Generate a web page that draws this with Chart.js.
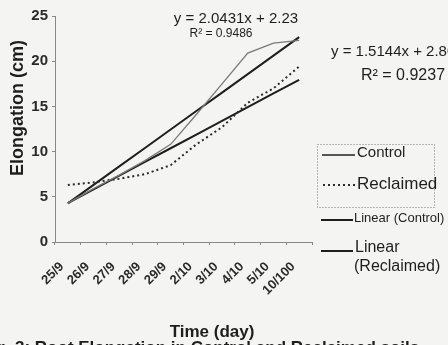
<!DOCTYPE html>
<html>
<head>
<meta charset="utf-8">
<script src="https://cdn.jsdelivr.net/npm/chart.js@4.4.0/dist/chart.umd.min.js"></script>
<style>
  body { margin: 0; background: #f4f4f3; }
  #chartBox { width: 448px; height: 345px; }
</style>
</head>
<body>
<div id="chartBox"><canvas id="myChart" width="448" height="345"></canvas></div>
<script>
'use strict'

// data
const categories = ['25/9', '26/9', '27/9', '28/9', '29/9', '2/10', '3/10', '4/10', '5/10', '10/100'];
const controlValues = [4.3, 5.9, 7.4, 9.0, 10.8, 14.1, 17.5, 20.9, 22.0, 22.3];
const reclaimedValues = [6.3, 6.6, 7.0, 7.5, 8.5, 10.8, 12.7, 15.4, 17.0, 19.4];
// trend lines, values of the printed equations at x = 1..10
const controlTrend = [4.27, 6.32, 8.36, 10.40, 12.45, 14.49, 16.53, 18.57, 20.62, 22.66];
const reclaimedTrend = [4.31, 5.83, 7.34, 8.86, 10.37, 11.89, 13.40, 14.92, 16.43, 17.94];
const yTicks = [0, 5, 10, 15, 20, 25];

const controlEq = ['y = 2.0431x + 2.23', 'R² = 0.9486'];
const reclaimedEq = ['y = 1.5144x + 2.800', 'R² = 0.9237'];

const inkColor = '#1e1e1e';
const fontName = 'Arial, "Liberation Sans", sans-serif';

function font(size, bold) {
  return (bold ? 'bold ' : '') + size + 'px ' + fontName;
}

let textPlugin = {
  id: 'textPlugin',
  afterDraw(chart) {
    const ctx = chart.ctx;
    const sets = chart.data.datasets;
    ctx.save();
    ctx.fillStyle = inkColor;
    ctx.textBaseline = 'middle';

    // y axis title
    ctx.save();
    ctx.translate(18, 108);
    ctx.rotate(-Math.PI / 2);
    ctx.textAlign = 'center';
    ctx.font = font(18, true);
    ctx.fillText('Elongation (cm)', 0, 0);
    ctx.restore();

    // x axis title
    ctx.textAlign = 'center';
    ctx.font = font(17, true);
    ctx.fillText('Time (day)', 212, 332);

    // caption, cut by the bottom edge
    ctx.textAlign = 'left';
    ctx.textBaseline = 'alphabetic';
    ctx.font = font(17, true);
    let lead = ctx.measureText('Fig. ').width;
    ctx.fillText('Fig. 3: Root Elongation in Control and Reclaimed soils', 15 - lead, 353);
    ctx.textBaseline = 'middle';

    // equations
    ctx.textAlign = 'center';
    ctx.font = font(15, false);
    ctx.fillText(controlEq[0], 236, 19);
    ctx.font = font(12, false);
    ctx.fillText(controlEq[1], 221, 34);
    ctx.textAlign = 'left';
    ctx.font = font(15, false);
    ctx.fillText(reclaimedEq[0], 331, 52);
    ctx.font = font(16, false);
    ctx.fillText(reclaimedEq[1], 361, 76);

    // legend box
    ctx.strokeStyle = '#777';
    ctx.lineWidth = 1;
    ctx.setLineDash([1, 2]);
    ctx.strokeRect(317.5, 144.5, 117, 63);

    function symbol(ds, x1, x2, y) {
      ctx.save();
      ctx.strokeStyle = ds.legendColor || ds.borderColor;
      ctx.lineWidth = ds.borderWidth;
      ctx.setLineDash(ds.borderDash || []);
      ctx.beginPath();
      ctx.moveTo(x1, y);
      ctx.lineTo(x2, y);
      ctx.stroke();
      ctx.restore();
    }

    ctx.setLineDash([]);
    symbol(sets[0], 322, 355, 155);
    ctx.font = font(15, false);
    ctx.fillText(sets[0].label, 357, 153);

    symbol(sets[1], 323, 355, 185);
    ctx.font = font(17, false);
    ctx.fillText(sets[1].label, 357, 184);

    symbol(sets[2], 321, 353, 220);
    ctx.font = font(13, false);
    ctx.fillText(sets[2].label, 354, 218);

    symbol(sets[3], 321, 353, 251);
    ctx.font = font(16, false);
    ctx.fillText('Linear', 355, 248);
    ctx.fillText('(Reclaimed)', 354, 267);

    ctx.restore();
  }
};

const data = {
  labels: categories,
  datasets: [
    {
      label: 'Control',
      data: controlValues,
      borderColor: '#7a7a7a',
      legendColor: '#222',
      borderWidth: 1.3,
      pointRadius: 0,
      order: 1
    },
    {
      label: 'Reclaimed',
      data: reclaimedValues,
      borderColor: '#2a2a2a',
      borderWidth: 2,
      borderDash: [2, 3],
      pointRadius: 0,
      order: 2
    },
    {
      label: 'Linear (Control)',
      data: controlTrend,
      borderColor: inkColor,
      borderWidth: 2,
      pointRadius: 0,
      order: 3
    },
    {
      label: 'Linear (Reclaimed)',
      data: reclaimedTrend,
      borderColor: inkColor,
      borderWidth: 2,
      pointRadius: 0,
      order: 4
    }
  ]
};

const config = {
  type: 'line',
  data: data,
  options: {
    responsive: false,
    animation: false,
    layout: { padding: { left: 0, right: 136, top: 16, bottom: 0 } },
    plugins: {
      legend: { display: false },
      tooltip: { enabled: false }
    },
    scales: {
      x: {
        type: 'category',
        offset: true,
        grid: { offset: true, drawOnChartArea: false, tickLength: 3, color: '#888' },
        border: { color: '#888', dash: [1, 2], width: 1 },
        ticks: {
          minRotation: 45,
          maxRotation: 45,
          autoSkip: false,
          padding: 14,
          labelOffset: -6,
          color: '#2a2a2a',
          font: { size: 13, weight: 'bold', family: fontName }
        },
        afterFit(scale) { scale.height = 103; }
      },
      y: {
        min: 0,
        max: 25,
        afterBuildTicks(scale) { scale.ticks = yTicks.map(v => ({ value: v })); },
        grid: { drawOnChartArea: false, tickLength: 3, color: '#888' },
        border: { color: '#888', dash: [1, 2], width: 1 },
        ticks: {
          padding: 4,
          color: '#2a2a2a',
          font: { size: 15, weight: 'bold', family: fontName }
        },
        afterFit(scale) { scale.width = 55; }
      }
    }
  },
  plugins: [textPlugin]
};

let myChart = new Chart(document.getElementById('myChart'), config);
</script>
</body>
</html>
